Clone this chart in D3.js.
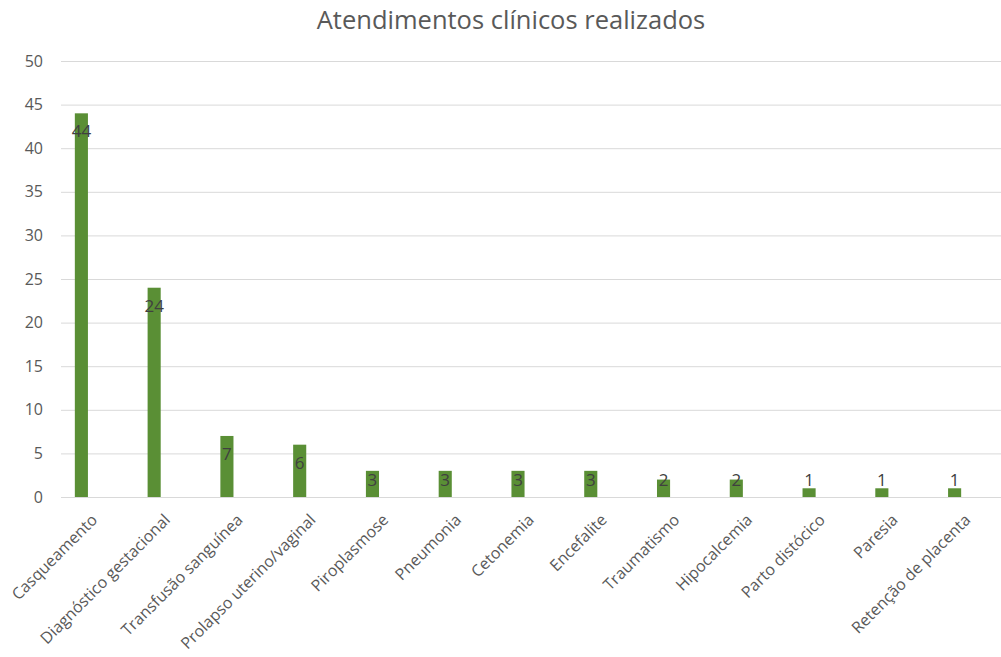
<!DOCTYPE html>
<html><head><meta charset="utf-8">
<script src="https://cdn.jsdelivr.net/npm/d3@7"></script>
<style>body{margin:0;background:#fff;}svg{display:block;font-family:"Open Sans","Liberation Sans",sans-serif;}</style>
</head><body>
<svg id="c" width="1001" height="657"></svg>
<script>
const categories = ["Casqueamento","Diagnóstico gestacional","Transfusão sanguínea","Prolapso uterino/vaginal","Piroplasmose","Pneumonia","Cetonemia","Encefalite","Traumatismo","Hipocalcemia","Parto distócico","Paresia","Retenção de placenta"];
const values = [44,24,7,6,3,3,3,3,2,2,1,1,1];
const yTicks = [0,5,10,15,20,25,30,35,40,45,50];
const title = "Atendimentos clínicos realizados";

const svg = d3.select("#c");
const x = d3.scaleBand().domain(categories).range([45, 991]).paddingInner(0.82).paddingOuter(0.41);
const y = d3.scaleLinear().domain([0, 50]).range([497, 61]);

svg.append("text").attr("x", 511).attr("y", 29).attr("text-anchor", "middle")
  .attr("font-size", 25.5).attr("fill", "#595959").text(title);

const ga = svg.append("g").attr("transform", "translate(61,0)")
  .call(d3.axisLeft(y).tickValues(yTicks).tickSize(-940).tickPadding(18));
ga.select(".domain").remove();
ga.selectAll(".tick line").attr("stroke", "#d9d9d9").attr("stroke-width", 1);
ga.selectAll(".tick text").attr("fill", "#595959").attr("font-size", 16).attr("font-family", "Open Sans, Liberation Sans, sans-serif");

svg.append("g").selectAll("rect").data(values).join("rect")
  .attr("x", (d, i) => x(categories[i]))
  .attr("width", x.bandwidth())
  .attr("y", d => y(d))
  .attr("height", d => y(0) - y(d))
  .attr("fill", "#5a8f35");

svg.append("g").selectAll("text").data(values).join("text")
  .attr("x", (d, i) => x(categories[i]) + x.bandwidth() / 2)
  .attr("y", d => Math.min(y(d) + 18, 480))
  .attr("dy", "0.35em").attr("text-anchor", "middle")
  .attr("font-size", 17).attr("fill", "#404040").text(d => d);

const gx = svg.append("g").attr("transform", "translate(0,497)")
  .call(d3.axisBottom(x).tickSize(0).tickPadding(0));
gx.select(".domain").remove();
gx.selectAll(".tick text")
  .attr("fill", "#595959").attr("font-size", 16).attr("font-family", "Open Sans, Liberation Sans, sans-serif")
  .attr("text-anchor", "end")
  .attr("transform", "translate(13,20) rotate(-45)")
  .attr("dy", "0.35em").attr("y", 0).attr("x", 0);
</script>
</body></html>
